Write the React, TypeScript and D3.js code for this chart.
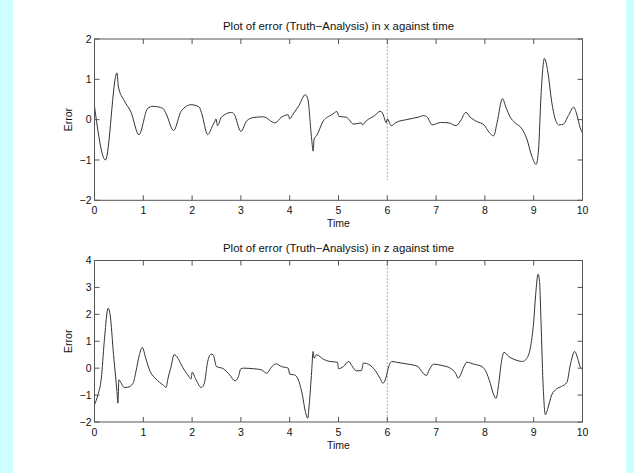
import React from "react";
import * as d3 from "d3";

// ---- data ----
const xTicks = [0, 1, 2, 3, 4, 5, 6, 7, 8, 9, 10];
const yTicksTop = [-2, -1, 0, 1, 2];
const yTicksBottom = [-2, -1, 0, 1, 2, 3, 4];
const markerTime = 6;
const markerEndTop = -1.5;

const timeX = [
  0, 0.225, 0.46, 0.49, 0.61, 0.75, 0.91, 1.09, 1.2, 1.4, 1.47, 1.62, 1.78, 1.98, 2.14, 2.19, 2.32, 2.42,
  2.47, 2.49, 2.52, 2.6, 2.81, 2.86, 3.0, 3.12, 3.25, 3.46, 3.7, 3.83, 3.97, 4.0, 4.07, 4.19, 4.32,
  4.37, 4.45, 4.48, 4.5, 4.55, 4.69, 4.86, 4.97, 5.01, 5.16, 5.31, 5.47, 5.49, 5.57, 5.74, 5.86, 5.91,
  5.98, 6.0, 6.08, 6.18, 6.39, 6.63, 6.75, 6.82, 6.92, 7.09, 7.26, 7.41, 7.5, 7.61, 7.7, 7.84, 7.98,
  8.09, 8.18, 8.25, 8.36, 8.43, 8.52, 8.62, 8.76, 8.86, 8.96, 9.05, 9.1, 9.15, 9.22, 9.29, 9.37, 9.44,
  9.52, 9.61, 9.71, 9.82, 9.88, 9.95, 10,
];
const errorX = [
  0.33, -1.0, 1.16, 0.81, 0.47, 0.18, -0.375, 0.28, 0.33, 0.28, 0.14, -0.27, 0.22, 0.37, 0.32, 0.18, -0.37, -0.15,
  -0.03, 0.02, -0.15, 0.06, 0.18, 0.14, -0.29, -0.03, 0.05, 0.07, -0.08, 0.06, 0.12, 0.02, 0.14, 0.35, 0.62,
  0.52, -0.48, -0.78, -0.48, -0.4, -0.03, 0.12, 0.2, 0.08, 0.06, -0.11, -0.08, -0.13, -0.03, 0.1, 0.21, 0.14,
  -0.08, 0.02, -0.15, -0.07, 0.0, 0.06, 0.1, 0.06, -0.13, -0.07, -0.08, -0.15, -0.03, 0.18, 0.06, -0.05, -0.13,
  -0.32, -0.4, -0.07, 0.52, 0.31, 0.06, -0.08, -0.23, -0.48, -0.9, -1.11, -0.73, 0.6, 1.52, 1.18, 0.43, 0.02,
  -0.13, -0.11, 0.1, 0.31, 0.14, -0.19, -0.33,
];

const timeZ = [
  0, 0.07, 0.14, 0.2, 0.28, 0.32, 0.39, 0.46, 0.48, 0.5, 0.53, 0.61, 0.68, 0.79, 0.85, 0.92, 0.98, 1.05,
  1.14, 1.26, 1.4, 1.47, 1.5, 1.57, 1.63, 1.71, 1.78, 1.91, 1.98, 2.0, 2.08, 2.19, 2.25, 2.32, 2.39, 2.43,
  2.5, 2.64, 2.77, 2.88, 2.95, 3.0, 3.05, 3.25, 3.42, 3.53, 3.61, 3.72, 3.83, 3.97, 4.0, 4.1, 4.19, 4.26,
  4.32, 4.37, 4.4, 4.45, 4.48, 4.5, 4.55, 4.69, 4.82, 4.98, 5.0, 5.1, 5.21, 5.27, 5.37, 5.47, 5.51, 5.64,
  5.74, 5.85, 5.91, 5.97, 6.02, 6.09, 6.19, 6.39, 6.63, 6.68, 6.8, 6.86, 6.95, 7.12, 7.29, 7.4, 7.45, 7.5,
  7.57, 7.63, 7.77, 7.94, 8.02, 8.11, 8.18, 8.23, 8.28, 8.34, 8.39, 8.49, 8.62, 8.77, 8.86, 8.93, 9.0,
  9.04, 9.09, 9.12, 9.15, 9.19, 9.24, 9.29, 9.37, 9.47, 9.57, 9.68, 9.75, 9.84, 9.9, 9.95, 10,
];
const errorZ = [
  -1.36, -0.99, -0.37, 0.99, 2.23, 1.98, 0.5, -0.87, -1.3, -0.43, -0.5, -0.72, -0.71, -0.56, -0.12, 0.5, 0.77, 0.37,
  -0.12, -0.4, -0.62, -0.71, -0.43, 0.06, 0.5, 0.37, 0.12, -0.25, -0.4, -0.15, -0.43, -0.72, -0.56, 0.25, 0.52, 0.5,
  0.06, -0.02, -0.25, -0.47, -0.31, -0.02, 0.0, -0.02, -0.06, -0.19, 0.0, 0.16, 0.06, 0.0, -0.22, -0.25, -0.5, -1.0,
  -1.61, -1.86, -1.36, -0.12, 0.62, 0.37, 0.5, 0.33, 0.25, 0.22, -0.02, 0.06, 0.25, 0.1, -0.1, -0.09, 0.19, 0.12,
  -0.06, -0.37, -0.56, -0.37, 0.0, 0.25, 0.22, 0.16, 0.06, -0.06, -0.27, -0.06, 0.15, 0.1, 0.0, -0.19, -0.37, -0.25,
  0.06, 0.22, 0.15, 0.06, -0.12, -0.56, -0.99, -1.12, -0.62, 0.25, 0.59, 0.43, 0.31, 0.25, 0.37, 0.74, 1.73,
  2.73, 3.49, 3.22, 1.73, -0.5, -1.73, -1.49, -0.99, -0.77, -0.68, -0.53, 0.12, 0.62, 0.37, 0.06, -0.04,
];

const titleTop = "Plot of error (Truth\u2212Analysis) in x against time";
const titleBottom = "Plot of error (Truth\u2212Analysis) in z against time";

const W = 634;
const H = 473;
const FONT = "'Liberation Sans', Arial, Helvetica, sans-serif";
const FS = 10.5;
const TFS = 11.4;

type PanelProps = {
  top: number;
  bottom: number;
  yDomain: [number, number];
  yTicks: number[];
  times: number[];
  values: number[];
  title: string;
  markerEnd: number;
};

function fmt(v: number) {
  return v < 0 ? "\u2212" + Math.abs(v) : String(v);
}

function Panel({ top, bottom, yDomain, yTicks, times, values, title, markerEnd }: PanelProps) {
  const x = d3.scaleLinear().domain([0, 10]).range([94.5, 582.5]);
  const y = d3.scaleLinear().domain(yDomain).range([bottom, top]);
  const pts = times.map((t, i) => [t, values[i]] as [number, number]);
  const line = d3
    .line<[number, number]>()
    .x((d) => x(d[0]))
    .y((d) => y(d[1]))
    .curve(d3.curveMonotoneX);
  const tl = 5;
  const axisColor = "#555";
  const cx = (x(0) + x(10)) / 2;
  return (
    <g>
      <text x={cx} y={top - 9} textAnchor="middle" fontSize={TFS} fontFamily={FONT} fill="#111">
        {title}
      </text>
      <line
        x1={x(markerTime)}
        x2={x(markerTime)}
        y1={y(yDomain[1])}
        y2={y(markerEnd)}
        stroke="#999"
        strokeWidth={0.8}
        strokeDasharray="2,1.5"
      />
      <path d={line(pts) || ""} fill="none" stroke="#333" strokeWidth={1} />
      {xTicks.map((t) => (
        <g key={"xt" + t}>
          <line x1={x(t)} x2={x(t)} y1={bottom} y2={bottom - tl} stroke={axisColor} strokeWidth={1} />
          <line x1={x(t)} x2={x(t)} y1={top} y2={top + tl} stroke={axisColor} strokeWidth={1} />
          <text x={x(t)} y={bottom + 14} textAnchor="middle" fontSize={FS} fontFamily={FONT} fill="#111">
            {t}
          </text>
        </g>
      ))}
      {yTicks.map((v) => (
        <g key={"yt" + v}>
          <line x1={x(0)} x2={x(0) + tl} y1={y(v)} y2={y(v)} stroke={axisColor} strokeWidth={1} />
          <line x1={x(10)} x2={x(10) - tl} y1={y(v)} y2={y(v)} stroke={axisColor} strokeWidth={1} />
          <text x={x(0) - 3} y={y(v) + 3.8} textAnchor="end" fontSize={FS} fontFamily={FONT} fill="#111">
            {fmt(v)}
          </text>
        </g>
      ))}
      <rect
        x={x(0)}
        y={top}
        width={x(10) - x(0)}
        height={bottom - top}
        fill="none"
        stroke={axisColor}
        strokeWidth={1}
      />
      <text x={cx} y={bottom + 27} textAnchor="middle" fontSize={FS} fontFamily={FONT} fill="#111">
        Time
      </text>
      <text
        transform={`translate(${72},${(top + bottom) / 2}) rotate(-90)`}
        textAnchor="middle"
        fontSize={FS}
        fontFamily={FONT}
        fill="#111"
      >
        Error
      </text>
    </g>
  );
}

export default function App() {
  return (
    <svg width={W} height={H} style={{ position: "absolute", left: 0, top: 0 }}>
      <rect x={0} y={0} width={W} height={H} fill="#ccffff" />
      <rect x={13} y={0} width={613} height={H} fill="#ffffff" />
      <Panel
        top={39}
        bottom={200.3}
        yDomain={[-2, 2]}
        yTicks={yTicksTop}
        times={timeX}
        values={errorX}
        title={titleTop}
        markerEnd={markerEndTop}
      />
      <Panel
        top={260.5}
        bottom={422}
        yDomain={[-2, 4]}
        yTicks={yTicksBottom}
        times={timeZ}
        values={errorZ}
        title={titleBottom}
        markerEnd={-2}
      />
    </svg>
  );
}
